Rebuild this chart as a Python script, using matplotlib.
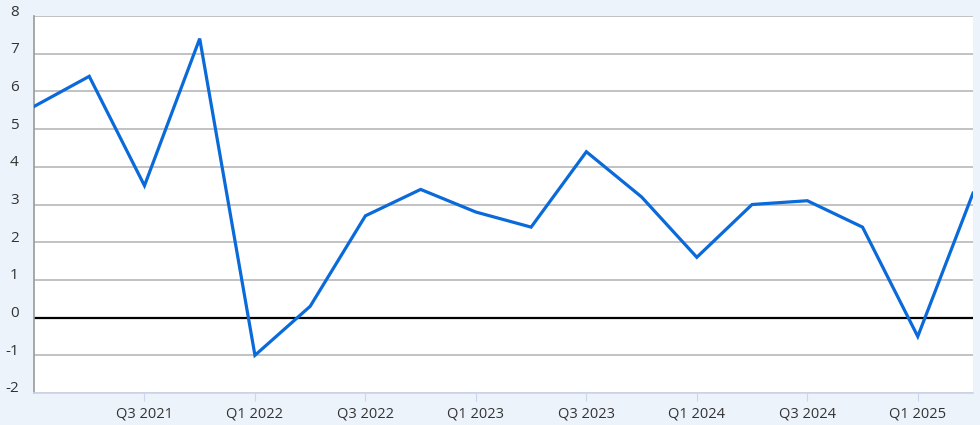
import matplotlib.pyplot as plt
import matplotlib.transforms as mtransforms
import numpy as np

# ── Datos ─────────────────────────────────────────────────
trimestres = ['Q1 2021', 'Q2 2021', 'Q3 2021', 'Q4 2021',
              'Q1 2022', 'Q2 2022', 'Q3 2022', 'Q4 2022',
              'Q1 2023', 'Q2 2023', 'Q3 2023', 'Q4 2023',
              'Q1 2024', 'Q2 2024', 'Q3 2024', 'Q4 2024',
              'Q1 2025', 'Q2 2025']
valores = [5.6, 6.4, 3.5, 7.4,
           -1.0, 0.3, 2.7, 3.4,
           2.8, 2.4, 4.4, 3.2,
           1.6, 3.0, 3.1, 2.4,
           -0.5, 3.3]
y_ticks = [-2, -1, 0, 1, 2, 3, 4, 5, 6, 7, 8]

# ── Estilo ────────────────────────────────────────────────
plt.rcParams['font.family'] = ['Open Sans', 'DejaVu Sans']
FONDO = '#edf3fb'
AZUL = '#0a6ad9'

fig = plt.figure(figsize=(9.8, 4.25), dpi=100, facecolor=FONDO)
ax = fig.add_axes([34/980, 32/425, 939/980, 377/425])
ax.set_facecolor('white')

x = np.arange(len(trimestres))
ax.plot(x, valores, color=AZUL, lw=2.3, solid_joinstyle='miter', zorder=3)

ax.set_xlim(0, len(trimestres) - 1)
ax.set_ylim(-2, 8)

ax.set_yticks(y_ticks)
ax.set_yticklabels([str(v) for v in y_ticks])
ax.tick_params(axis='y', length=0, pad=11, labelsize=11, labelcolor='#333333')
ax.grid(axis='y', color='#bdbdbd', lw=1.3, zorder=1)
ax.axhline(0, color='black', lw=1.6, zorder=2)

# etiquetas del eje y un poco por encima de la línea de rejilla
desplaza = mtransforms.ScaledTranslation(0, 6/100, fig.dpi_scale_trans)
for lbl in ax.get_yticklabels():
    lbl.set_transform(lbl.get_transform() + desplaza)

idx = list(range(2, len(trimestres), 2))
ax.set_xticks(idx)
ax.set_xticklabels([trimestres[i] for i in idx])
ax.tick_params(axis='x', length=6, color='#ccd6eb', labelsize=10.5,
               labelcolor='#333333', pad=4)

for s in ['top', 'right']:
    ax.spines[s].set_visible(False)
ax.spines['left'].set_color('#999999')
ax.spines['left'].set_linewidth(1.2)
ax.spines['bottom'].set_color('#ccd6eb')
ax.spines['bottom'].set_linewidth(1.2)

fig.savefig('out.png', dpi=100, facecolor=FONDO)
